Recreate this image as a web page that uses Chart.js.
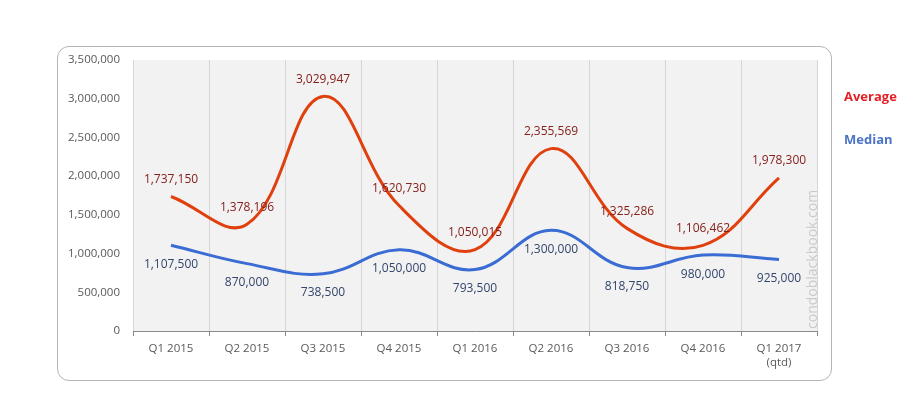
<!DOCTYPE html>
<html>
<head>
<meta charset="utf-8">
<script src="https://cdn.jsdelivr.net/npm/chart.js@4/dist/chart.umd.min.js"></script>
<style>
  html, body { margin:0; padding:0; background:#fff; }
  #wrap { position:relative; width:915px; height:399px; }
  #frame { position:absolute; left:57px; top:46px; width:775px; height:335px; border:1px solid #b4b4b4; border-radius:12px; box-sizing:border-box; }
  canvas { position:absolute; left:0; top:0; }
</style>
</head>
<body>
<div id="wrap">
  <div id="frame"></div>
  <canvas id="chart" width="915" height="399"></canvas>
</div>
<script>
// data
const categories = ['Q1 2015','Q2 2015','Q3 2015','Q4 2015','Q1 2016','Q2 2016','Q3 2016','Q4 2016',['Q1 2017','(qtd)']];
const averageValues = [1737150, 1378196, 3029947, 1620730, 1050015, 2355569, 1325286, 1106462, 1978300];
const medianValues  = [1107500, 870000, 738500, 1050000, 793500, 1300000, 818750, 980000, 925000];
const yMax = 3500000;
const yStep = 500000;
const watermark = 'condoblackbook.com';

const FONT = '"Open Sans", "Liberation Sans", sans-serif';
const fmt = v => Number(v).toLocaleString('en-US');

// grey plot background
const plotBg = {
  id:'plotBg',
  beforeDraw(chart){
    const a = chart.chartArea, c = chart.ctx;
    c.save(); c.fillStyle = '#f2f2f2';
    c.fillRect(a.left, a.top, a.right - a.left, a.bottom - a.top);
    c.restore();
  }
};

// value labels: average above the line, median below
const valueLabels = {
  id:'valueLabels',
  afterDatasetsDraw(chart, args, opts){
    const c = chart.ctx;
    c.save();
    c.font = '12px ' + FONT;
    c.textAlign = 'center'; c.textBaseline = 'middle';
    chart.data.datasets.forEach((ds, i) => {
      const meta = chart.getDatasetMeta(i);
      c.fillStyle = opts.colors[i];
      meta.data.forEach((pt, j) => {
        c.fillText(fmt(ds.data[j]), pt.x, pt.y + opts.offsets[i]);
      });
    });
    c.restore();
  }
};

// legend text on the right + vertical watermark
const sideText = {
  id:'sideText',
  afterDraw(chart, args, opts){
    const a = chart.chartArea, c = chart.ctx;
    c.save();
    c.font = 'bold 13px ' + FONT;
    c.textAlign = 'left'; c.textBaseline = 'middle';
    chart.data.datasets.forEach((ds, i) => {
      c.fillStyle = opts.legendColors[i];
      c.fillText(ds.label, a.right + 27, 97 + i * 43);
    });
    c.translate(a.right - 4, a.bottom - 2);
    c.rotate(-Math.PI / 2);
    c.font = '14px ' + FONT;
    c.fillStyle = '#cacaca';
    c.fillText(watermark, 0, 0);
    c.restore();
  }
};

new Chart(document.getElementById('chart').getContext('2d'), {
  type:'line',
  data:{
    labels:categories,
    datasets:[
      {label:'Average', data:averageValues, borderColor:'#e0400e', borderWidth:3, tension:0.4, pointRadius:0, fill:false},
      {label:'Median', data:medianValues, borderColor:'#3a6cd3', borderWidth:3, tension:0.4, pointRadius:0, fill:false}
    ]
  },
  options:{
    responsive:false,
    devicePixelRatio:1,
    animation:false,
    layout:{padding:{top:60, right:98, left:0, bottom:0}},
    plugins:{
      legend:{display:false},
      tooltip:{enabled:false},
      valueLabels:{colors:['#86201c','#33456b'], offsets:[-17, 19]},
      sideText:{legendColors:['#e51f26','#4d74c6']}
    },
    scales:{
      x:{
        offset:true,
        grid:{offset:true, color:'#d6d6d6', tickColor:'#8a8a8a', tickLength:5},
        border:{color:'#8a8a8a'},
        ticks:{color:'#595959', font:{family:FONT, size:11.5}, padding:6, maxRotation:0},
        afterFit(s){ s.height = 68; }
      },
      y:{
        min:0, max:yMax,
        grid:{display:false, drawTicks:false},
        border:{display:false},
        ticks:{stepSize:yStep, color:'#595959', font:{family:FONT, size:11.5}, padding:13, callback:v => fmt(v)},
        afterFit(s){ s.width = 133; }
      }
    }
  },
  plugins:[plotBg, valueLabels, sideText]
});
</script>
</body>
</html>
